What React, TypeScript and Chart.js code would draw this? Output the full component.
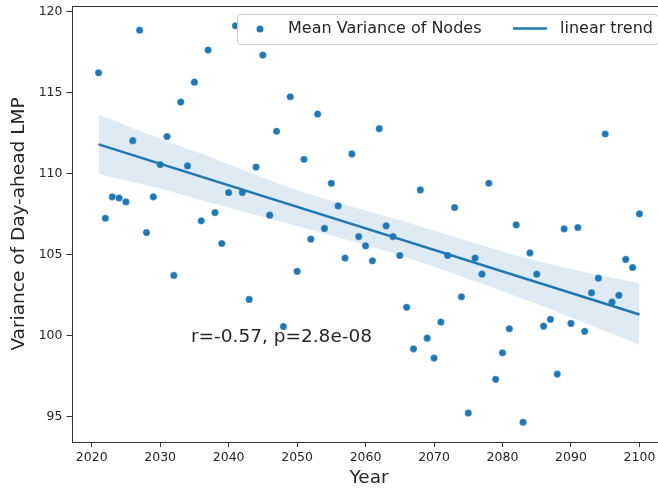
import React, { useEffect, useRef } from 'react';
import { Chart, registerables } from 'chart.js';

Chart.register(...registerables);

const years = [
  2021, 2022, 2023, 2024, 2025, 2026, 2027, 2028, 2029, 2030,
  2031, 2032, 2033, 2034, 2035, 2036, 2037, 2038, 2039, 2040,
  2041, 2042, 2043, 2044, 2045, 2046, 2047, 2048, 2049, 2050,
  2051, 2052, 2053, 2054, 2055, 2056, 2057, 2058, 2059, 2060,
  2061, 2062, 2063, 2064, 2065, 2066, 2067, 2068, 2069, 2070,
  2071, 2072, 2073, 2074, 2075, 2076, 2077, 2078, 2079, 2080,
  2081, 2082, 2083, 2084, 2085, 2086, 2087, 2088, 2089, 2090,
  2091, 2092, 2093, 2094, 2095, 2096, 2097, 2098, 2099, 2100,
];

const meanVariance = [
  116.21, 107.23, 108.55, 108.48, 108.24, 112.02, 118.84, 106.35, 108.55, 110.54,
  112.27, 103.7, 114.4, 110.46, 115.63, 107.07, 117.61, 107.58, 105.67, 108.82,
  119.11, 108.82, 102.22, 110.39, 117.3, 107.42, 112.6, 100.55, 114.73, 103.95,
  110.87, 105.94, 113.66, 106.6, 109.39, 107.99, 104.77, 111.2, 106.1, 105.52,
  104.6, 112.76, 106.76, 106.1, 104.93, 101.73, 99.17, 108.98, 99.83, 98.6,
  100.82, 104.93, 107.89, 102.38, 95.21, 104.77, 103.78, 109.39, 97.29, 98.93,
  100.41, 106.82, 94.64, 105.09, 103.78, 100.57, 100.99, 97.61, 106.57, 100.74,
  106.66, 100.25, 102.63, 103.53, 112.43, 102.05, 102.47, 104.69, 104.19, 107.5,
];

const trendYears = [2021, 2100];
const trendValues = [111.79, 101.29];

const bandYears = [2021, 2030, 2036, 2050, 2065, 2084, 2100];
const bandUpper = [113.64, 112.14, 111.22, 108.96, 107.1, 104.7, 103.2];
const bandLower = [109.96, 109.06, 108.34, 106.74, 104.95, 102.1, 99.4];

const xTicks = [2020, 2030, 2040, 2050, 2060, 2070, 2080, 2090, 2100];
const yTicks = [95, 100, 105, 110, 115, 120];

const xMin = 2017.05;
const xMax = 2103.95;
const yMin = 93.42;
const yMax = 120.33;

const seriesLabel = 'Mean Variance of Nodes';
const trendLabel = 'linear trend';
const annotationText = 'r=-0.57, p=2.8e-08';
const annotationX = 2034.5;
const annotationY = 99.6;

const BLUE = '#1f77b4';
const FONT = 'DejaVu Sans';
const TEXT = '#262626';

const decorPlugin = {
  id: 'decor',
  afterDatasetsDraw(chart: any) {
    const { ctx, chartArea, scales } = chart;
    ctx.save();
    // frame
    ctx.strokeStyle = '#333333';
    ctx.lineWidth = 1;
    ctx.strokeRect(
      Math.round(chartArea.left) + 0.5,
      Math.round(chartArea.top) + 0.5,
      Math.round(chartArea.right - chartArea.left),
      Math.round(chartArea.bottom - chartArea.top)
    );
    // annotation
    ctx.fillStyle = TEXT;
    ctx.font = `18.5px "${FONT}"`;
    ctx.textAlign = 'left';
    ctx.textBaseline = 'alphabetic';
    ctx.fillText(
      annotationText,
      scales.x.getPixelForValue(annotationX),
      scales.y.getPixelForValue(annotationY)
    );
    // legend
    const right = chartArea.right - 8;
    const top = chartArea.top + 8;
    const bx = 237.5;
    const bw = right - bx;
    const bh = 30;
    ctx.beginPath();
    ctx.roundRect(bx, top + 0.5, bw, bh, 3);
    ctx.fillStyle = 'rgba(255,255,255,0.8)';
    ctx.fill();
    ctx.strokeStyle = '#cccccc';
    ctx.lineWidth = 1;
    ctx.stroke();
    const cy = top + 15;
    ctx.beginPath();
    ctx.arc(260, cy, 3.5, 0, Math.PI * 2);
    ctx.fillStyle = BLUE;
    ctx.fill();
    ctx.fillStyle = TEXT;
    ctx.font = `16px "${FONT}"`;
    ctx.textBaseline = 'middle';
    ctx.fillText(seriesLabel, 288, cy);
    ctx.beginPath();
    ctx.moveTo(513, cy - 0.5);
    ctx.lineTo(547, cy - 0.5);
    ctx.strokeStyle = BLUE;
    ctx.lineWidth = 2.5;
    ctx.stroke();
    ctx.fillText(trendLabel, 560, cy);
    ctx.restore();
  },
};

export default function App() {
  const canvasRef = useRef<HTMLCanvasElement | null>(null);

  useEffect(() => {
    if (!canvasRef.current) return;
    Chart.defaults.font.family = FONT;
    const chart = new Chart(canvasRef.current, {
      type: 'scatter',
      data: {
        datasets: [
          {
            type: 'line',
            label: trendLabel,
            data: trendYears.map((x, i) => ({ x, y: trendValues[i] })),
            borderColor: BLUE,
            borderWidth: 2.5,
            pointRadius: 0,
            fill: false,
            order: 0,
          },
          {
            type: 'line',
            label: 'ci-upper',
            data: bandYears.map((x, i) => ({ x, y: bandUpper[i] })),
            borderWidth: 0,
            borderColor: 'rgba(0,0,0,0)',
            backgroundColor: 'rgba(31,119,180,0.15)',
            pointRadius: 0,
            tension: 0.3,
            fill: '+1',
            order: 1,
          },
          {
            type: 'line',
            label: 'ci-lower',
            data: bandYears.map((x, i) => ({ x, y: bandLower[i] })),
            borderWidth: 0,
            borderColor: 'rgba(0,0,0,0)',
            pointRadius: 0,
            tension: 0.3,
            fill: false,
            order: 1,
          },
          {
            type: 'scatter',
            label: seriesLabel,
            data: years.map((x, i) => ({ x, y: meanVariance[i] })),
            backgroundColor: BLUE,
            borderColor: 'rgba(255,255,255,0.6)',
            borderWidth: 0.5,
            pointRadius: 3.6,
            order: 2,
          },
        ],
      },
      options: {
        animation: false,
        responsive: false,
        maintainAspectRatio: false,
        devicePixelRatio: 1,
        layout: { padding: { top: 6, right: 2, left: 0, bottom: 0 } },
        plugins: {
          legend: { display: false },
          tooltip: { enabled: false },
        },
        scales: {
          x: {
            type: 'linear',
            min: xMin,
            max: xMax,
            afterBuildTicks(scale: any) {
              scale.ticks = xTicks.map((v) => ({ value: v }));
            },
            afterFit(scale: any) {
              scale.height = 47;
              scale.paddingLeft = 0;
              scale.paddingRight = 0;
            },
            border: { display: false },
            grid: {
              display: true,
              drawOnChartArea: false,
              drawTicks: true,
              tickLength: 5,
              color: '#333333',
            },
            ticks: {
              font: { size: 12.5, family: FONT },
              color: TEXT,
              padding: 3,
              maxRotation: 0,
              callback: (v: any) => String(v),
            },
            title: {
              display: true,
              text: 'Year',
              font: { size: 18.5, family: FONT },
              color: TEXT,
              padding: { top: 0, bottom: 0 },
            },
          },
          y: {
            type: 'linear',
            min: yMin,
            max: yMax,
            afterBuildTicks(scale: any) {
              scale.ticks = yTicks.map((v) => ({ value: v }));
            },
            afterFit(scale: any) {
              scale.width = 71.5;
              scale.paddingTop = 0;
              scale.paddingBottom = 0;
            },
            border: { display: false },
            grid: {
              display: true,
              drawOnChartArea: false,
              drawTicks: true,
              tickLength: 5,
              color: '#333333',
            },
            ticks: {
              font: { size: 12.5, family: FONT },
              color: TEXT,
              padding: 4,
              callback: (v: any) => String(v),
            },
            title: {
              display: true,
              text: 'Variance of Day-ahead LMP',
              font: { size: 18.5, family: FONT },
              color: TEXT,
              padding: { top: 8, bottom: 0 },
            },
          },
        },
      },
      plugins: [decorPlugin],
    });
    return () => chart.destroy();
  }, []);

  return (
    <div
      style={{
        position: 'fixed',
        left: 0,
        top: 0,
        width: 658,
        height: 489,
        overflow: 'hidden',
        background: '#fff',
      }}
    >
      <canvas
        ref={canvasRef}
        width={671}
        height={489}
        style={{ display: 'block', width: 671, height: 489 }}
      />
    </div>
  );
}
